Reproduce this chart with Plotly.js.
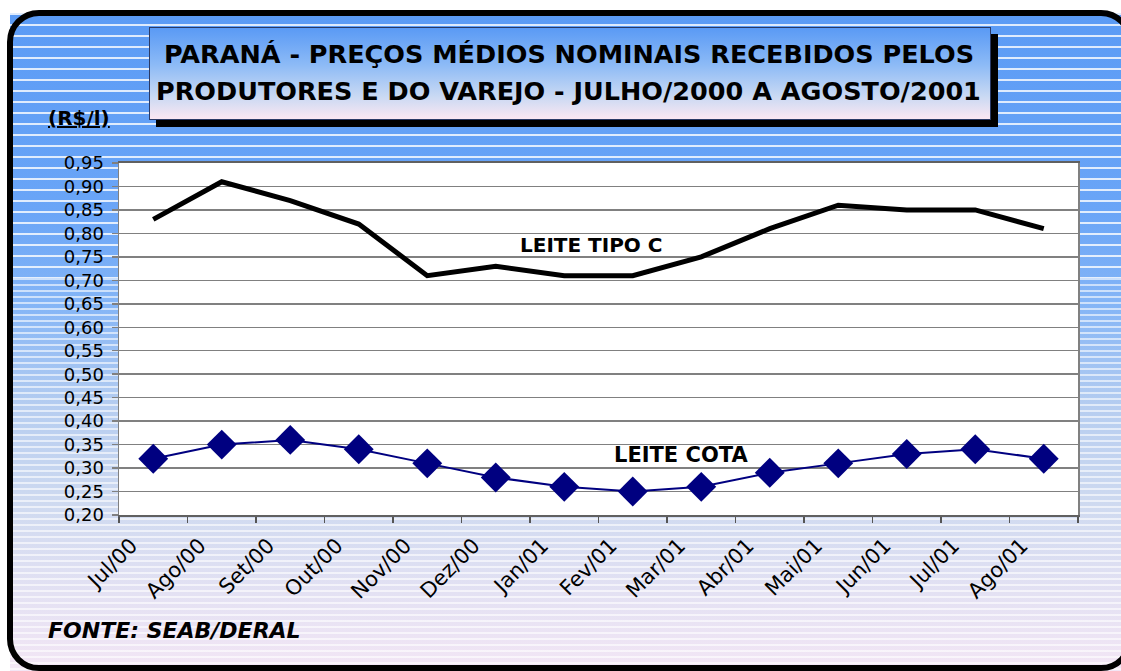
<!DOCTYPE html>
<html>
<head>
<meta charset="utf-8">
<script src="https://cdn.plot.ly/plotly-3.0.1.min.js"></script>
<style>
  html, body { margin:0; padding:0; background:#fff; overflow:hidden; }
  #bg { position:absolute; left:10px; top:13px; width:1111px; height:658px;
        background: linear-gradient(to bottom, #5b9bf5 0%, #6aa5f7 30%, #86b6f6 45%, #b6cdf0 60%, #cfdaf0 75%, #e3e1f3 88%, #f3e6f5 100%); }
  #stripesTop { position:absolute; left:10px; top:13px; width:1111px; height:265px;
        background: repeating-linear-gradient(to bottom, rgba(255,255,255,0.8) 0px, rgba(255,255,255,0.8) 2px, rgba(255,255,255,0) 2px, rgba(255,255,255,0) 11px); }
  #stripesBot { position:absolute; left:10px; top:278px; width:1111px; height:393px;
        background: repeating-linear-gradient(to bottom, rgba(255,255,255,0.6) 0px, rgba(255,255,255,0.6) 2px, rgba(255,255,255,0) 2px, rgba(255,255,255,0) 6px); }
  #titlebox { position:absolute; left:149px; top:27px; width:840px; height:91px;
        border:1px solid #2a3a66; box-shadow: 7px 7px 0 #000;
        background: linear-gradient(to bottom, #5a9af5 0%, #8cbaf6 40%, #c9d9f3 75%, #fbe7f2 100%); }
  #frame { position:absolute; left:7px; top:10px; width:1126px; height:661px; box-sizing:border-box;
        border:6px solid #000; border-radius:32px; pointer-events:none; z-index:3; }
  #chart { position:absolute; left:0; top:0; width:1121px; height:671px; z-index:2; }
</style>
</head>
<body>
<div id="bg"></div>
<div id="stripesTop"></div>
<div id="stripesBot"></div>
<div id="titlebox"></div>
<div id="frame"></div>
<div id="chart"></div>
<script>
const months = ['Jul/00','Ago/00','Set/00','Out/00','Nov/00','Dez/00','Jan/01','Fev/01','Mar/01','Abr/01','Mai/01','Jun/01','Jul/01','Ago/01'];
const leiteTipoC = [0.83, 0.91, 0.87, 0.82, 0.71, 0.73, 0.71, 0.71, 0.75, 0.81, 0.86, 0.85, 0.85, 0.81];
const leiteCota  = [0.32, 0.35, 0.36, 0.34, 0.31, 0.28, 0.26, 0.25, 0.26, 0.29, 0.31, 0.33, 0.34, 0.32];
const titleLine1 = 'PARANÁ - PREÇOS MÉDIOS NOMINAIS RECEBIDOS PELOS';
const titleLine2 = 'PRODUTORES E DO VAREJO - JULHO/2000 A AGOSTO/2001';
const unitLabel = '(R$/l)';
const labelTipoC = 'LEITE TIPO C';
const labelCota = 'LEITE COTA';
const sourceText = 'FONTE: SEAB/DERAL';

const traces = [
  { x: months, y: leiteTipoC, type: 'scatter', mode: 'lines', name: labelTipoC,
    line: { color: '#000000', width: 5 } },
  { x: months, y: leiteCota, type: 'scatter', mode: 'lines+markers', name: labelCota,
    line: { color: '#000080', width: 2 },
    marker: { symbol: 'diamond', size: 23, color: '#000080' } }
];

const fam = 'DejaVu Sans, sans-serif';
const titleFont = { family: fam, size: 25.5, color: '#000', weight: 'bold' };

const layout = {
  width: 1121, height: 671,
  margin: { l: 119, r: 43, t: 163, b: 156 },
  paper_bgcolor: 'rgba(0,0,0,0)',
  plot_bgcolor: '#ffffff',
  showlegend: false,
  separators: ',.',
  xaxis: {
    type: 'category', range: [-0.5, 13.5], tickson: 'boundaries', ticks: 'outside', ticklen: 6, tickwidth: 1.5,
    tickcolor: '#555', showline: true, linecolor: '#606060', linewidth: 2, mirror: true,
    tickangle: -45, tickfont: { family: fam, size: 21, color: '#000' },
    ticklabelshift: -22, ticklabelstandoff: 8,
    showgrid: false, zeroline: false
  },
  yaxis: {
    range: [0.2, 0.95], tick0: 0.2, dtick: 0.05, tickformat: '.2f',
    ticks: 'outside', ticklen: 6, tickcolor: '#808080', tickwidth: 1.5,
    showline: true, linecolor: '#808080', linewidth: 1.5, mirror: true,
    gridcolor: '#808080', gridwidth: 1.5, zeroline: false,
    tickfont: { family: fam, size: 18, color: '#000' }, ticklabelstandoff: 4
  },
  annotations: [
    { text: titleLine1, xref: 'paper', yref: 'paper', x: 0.469, y: 1.31, xanchor: 'center', yanchor: 'middle',
      showarrow: false, font: titleFont },
    { text: titleLine2, xref: 'paper', yref: 'paper', x: 0.469, y: 1.2045, xanchor: 'center', yanchor: 'middle',
      showarrow: false, font: titleFont },
    { text: '<b><u>' + unitLabel + '</u></b>', xref: 'paper', yref: 'paper', x: -0.0766, y: 1.128,
      xanchor: 'left', yanchor: 'middle', showarrow: false,
      font: { family: fam, size: 20, color: '#000' } },
    { text: '<b>' + labelTipoC + '</b>', x: 6.4, y: 0.775, xref: 'x', yref: 'y', showarrow: false,
      xanchor: 'center', yanchor: 'middle',
      font: { family: fam, size: 20, color: '#000' } },
    { text: '<b>' + labelCota + '</b>', x: 7.7, y: 0.328, xref: 'x', yref: 'y', showarrow: false,
      xanchor: 'center', yanchor: 'middle',
      font: { family: fam, size: 21, color: '#000' } },
    { text: '<b><i>' + sourceText + '</i></b>', xref: 'paper', yref: 'paper', x: -0.0766, y: -0.3295,
      xanchor: 'left', yanchor: 'middle', showarrow: false,
      font: { family: fam, size: 22, color: '#000' } }
  ]
};

Plotly.newPlot('chart', traces, layout, { displayModeBar: false, staticPlot: true });
</script>
</body>
</html>
